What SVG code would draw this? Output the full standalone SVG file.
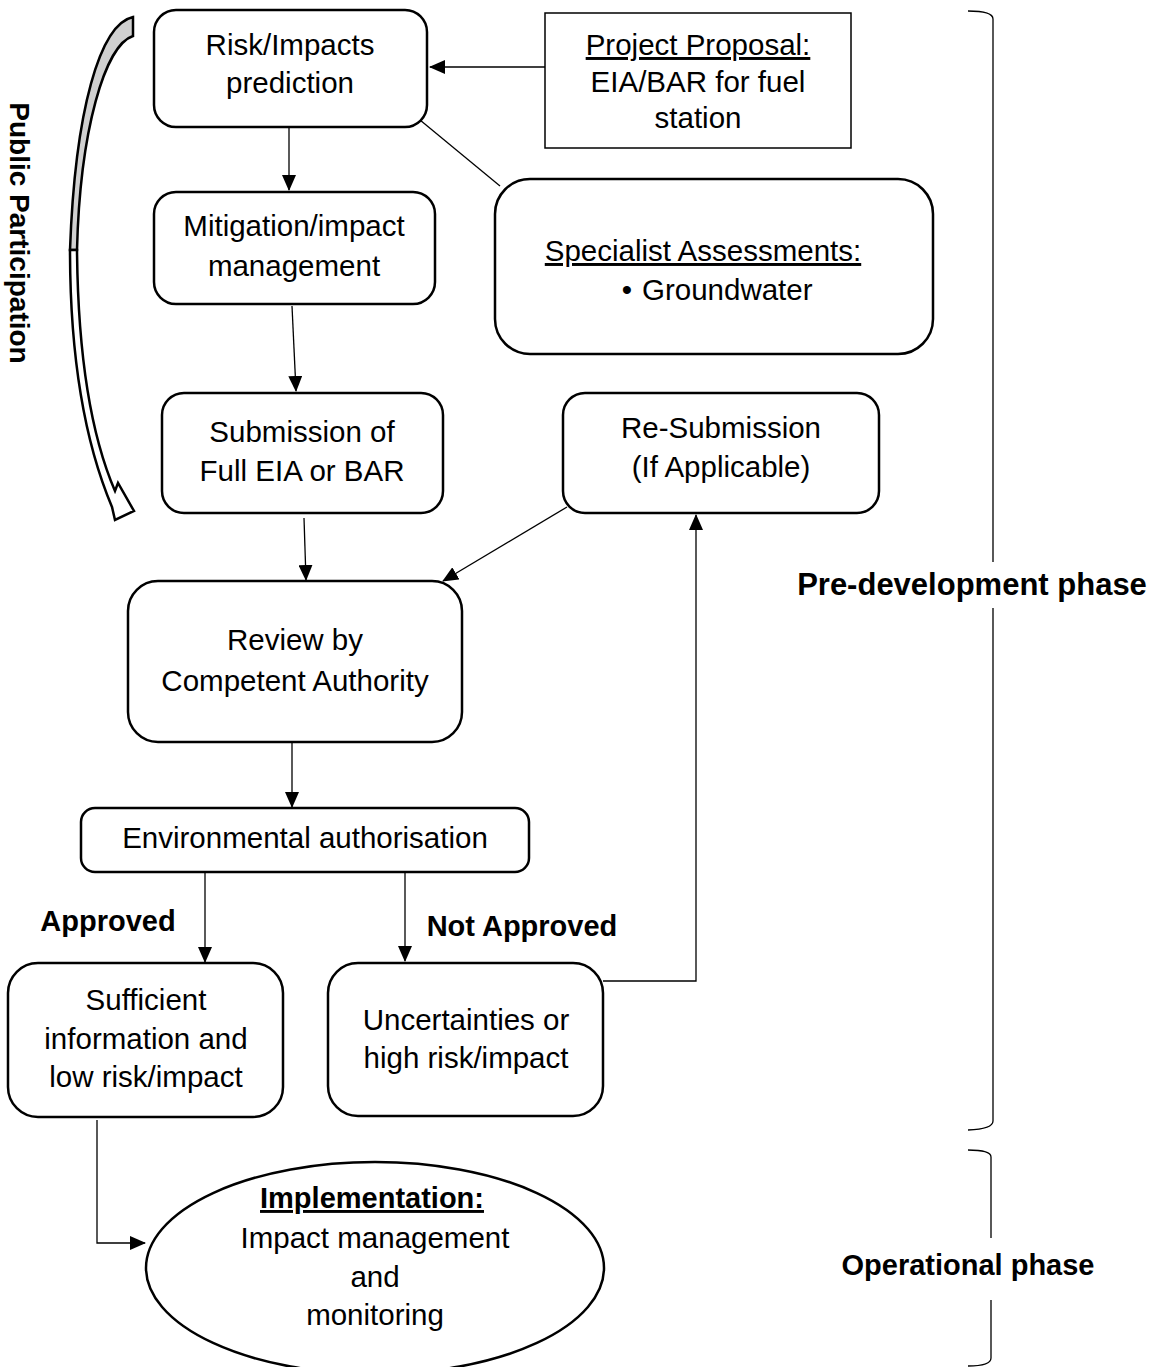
<svg xmlns="http://www.w3.org/2000/svg" width="1157" height="1367" viewBox="0 0 1157 1367">
  <style>
    .box { fill: #fff; stroke: #000; stroke-width: 2.5; }
    .thin { fill: #fff; stroke: #000; stroke-width: 1.5; }
    .t { font-family: "Liberation Sans", Arial, sans-serif; font-size: 29.5px; fill: #000; text-anchor: middle; }
    .b { font-family: "Liberation Sans", Arial, sans-serif; font-size: 29px; font-weight: bold; fill: #000; text-anchor: middle; }
    .u { text-decoration: underline; }
    .conn { fill: none; stroke: #000; stroke-width: 1.3; }
    .brace { fill: none; stroke: #000; stroke-width: 1.3; }
  </style>
  <defs>
    <marker id="arrow" markerUnits="userSpaceOnUse" markerWidth="16" markerHeight="14" refX="15" refY="7" orient="auto">
      <path d="M0,0 L16,7 L0,14 Z" fill="#000"/>
    </marker>
  </defs>
  <rect width="1157" height="1367" fill="#fff"/>

  <!-- public participation curved arrow -->
  <g id="public-participation">
    <path d="M133,17 C100,24 75,110 70,250 L77,250 C80,130 105,45 133,36 Z" fill="#d0d0d0" stroke="#000" stroke-width="2.5"/>
    <path d="M70,250 C70,370 88,450 112,507 L115,520 L134,511 L118,483 L115,491 C93,440 78,360 77,250 Z" fill="#fff" stroke="#000" stroke-width="2.5"/>
    <text class="b" transform="translate(20,233) rotate(90)" y="10" style="font-size:28px">Public Participation</text>
  </g>

  <!-- connectors -->
  <g id="connectors">
    <line class="conn" x1="545" y1="67" x2="430" y2="67" marker-end="url(#arrow)"/>
    <line class="conn" x1="289" y1="128" x2="289" y2="190" marker-end="url(#arrow)"/>
    <line class="conn" x1="420" y1="120" x2="500" y2="186"/>
    <line class="conn" x1="292" y1="306" x2="296" y2="391" marker-end="url(#arrow)"/>
    <line class="conn" x1="304" y1="518" x2="306" y2="580" marker-end="url(#arrow)"/>
    <line class="conn" x1="567" y1="507" x2="443" y2="581" marker-end="url(#arrow)"/>
    <line class="conn" x1="292" y1="742" x2="292" y2="807" marker-end="url(#arrow)"/>
    <line class="conn" x1="205" y1="873" x2="205" y2="962" marker-end="url(#arrow)"/>
    <line class="conn" x1="405" y1="873" x2="405" y2="961" marker-end="url(#arrow)"/>
    <polyline class="conn" points="603,981 696,981 696,515" marker-end="url(#arrow)"/>
    <polyline class="conn" points="97,1120 97,1243 145,1243" marker-end="url(#arrow)"/>
  </g>

  <g id="risk-prediction">
    <rect class="box" x="154" y="10" width="273" height="117" rx="22"/>
    <text class="t" x="290" y="55">Risk/Impacts</text>
    <text class="t" x="290" y="93">prediction</text>
  </g>

  <g id="project-proposal">
    <rect class="thin" x="545" y="13" width="306" height="135"/>
    <text class="t u" x="698" y="55">Project Proposal:</text>
    <text class="t" x="698" y="92">EIA/BAR for fuel</text>
    <text class="t" x="698" y="128">station</text>
  </g>

  <g id="mitigation">
    <rect class="box" x="154" y="192" width="281" height="112" rx="22"/>
    <text class="t" x="294" y="236">Mitigation/impact</text>
    <text class="t" x="294" y="276">management</text>
  </g>

  <g id="specialist-assessments">
    <rect class="box" x="495" y="179" width="438" height="175" rx="35"/>
    <text class="t u" x="703" y="261">Specialist Assessments:</text>
    <text class="t" x="627" y="300">•</text>
    <text class="t" x="642" y="300" style="text-anchor:start">Groundwater</text>
  </g>

  <g id="submission">
    <rect class="box" x="162" y="393" width="281" height="120" rx="22"/>
    <text class="t" x="302" y="442">Submission of</text>
    <text class="t" x="302" y="481">Full EIA or BAR</text>
  </g>

  <g id="re-submission">
    <rect class="box" x="563" y="393" width="316" height="120" rx="22"/>
    <text class="t" x="721" y="438">Re-Submission</text>
    <text class="t" x="721" y="477">(If Applicable)</text>
  </g>

  <g id="review">
    <rect class="box" x="128" y="581" width="334" height="161" rx="30"/>
    <text class="t" x="295" y="650">Review by</text>
    <text class="t" x="295" y="691">Competent Authority</text>
  </g>

  <g id="environmental-authorisation">
    <rect class="box" x="81" y="808" width="448" height="64" rx="14"/>
    <text class="t" x="305" y="848">Environmental authorisation</text>
  </g>

  <g id="approved-label">
    <text class="b" x="108" y="931">Approved</text>
  </g>
  <g id="not-approved-label">
    <text class="b" x="522" y="936">Not Approved</text>
  </g>

  <g id="sufficient-information">
    <rect class="box" x="8" y="963" width="275" height="154" rx="30"/>
    <text class="t" x="146" y="1010">Sufficient</text>
    <text class="t" x="146" y="1049">information and</text>
    <text class="t" x="146" y="1087">low risk/impact</text>
  </g>

  <g id="uncertainties">
    <rect class="box" x="328" y="963" width="275" height="153" rx="30"/>
    <text class="t" x="466" y="1030">Uncertainties or</text>
    <text class="t" x="466" y="1068">high risk/impact</text>
  </g>

  <g id="implementation">
    <ellipse class="box" cx="375" cy="1268" rx="229" ry="106"/>
    <text class="b u" x="372" y="1208">Implementation:</text>
    <text class="t" x="375" y="1248">Impact management</text>
    <text class="t" x="375" y="1287">and</text>
    <text class="t" x="375" y="1325">monitoring</text>
  </g>

  <!-- phase brackets -->
  <g id="pre-development-phase">
    <path class="brace" d="M968,11 Q993,11 993,19 L993,562 M993,608 L993,1121 Q993,1129 968,1130"/>
    <text class="b" x="972" y="595" style="font-size:31px">Pre-development phase</text>
  </g>
  <g id="operational-phase">
    <path class="brace" d="M968,1150 Q991,1150 991,1157 L991,1238 M991,1300 L991,1358 Q991,1366 968,1366"/>
    <text class="b" x="968" y="1275">Operational phase</text>
  </g>
</svg>
